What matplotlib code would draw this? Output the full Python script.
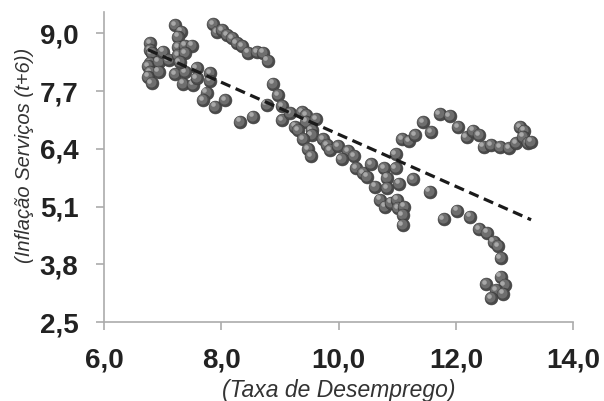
"""
Inflação de serviços (t+6) vs taxa de desemprego - dispersão com tendência linear.
"""

import numpy as np
import matplotlib
matplotlib.use("Agg")
import matplotlib.pyplot as plt
from matplotlib.transforms import offset_copy

# ── Dados ────────────────────────────────────────────────────────────────────

desemprego = [
    6.78, 6.78, 6.81, 6.78, 6.75, 6.78, 6.75, 6.81, 6.93, 7.01,
    6.93, 7.10, 7.21, 7.31, 7.26, 7.26, 7.38, 7.50, 7.26, 7.38,
    7.21, 7.38, 7.35, 7.52, 7.58, 7.58, 7.29, 7.81, 7.81, 7.75,
    7.69, 7.89, 8.06, 8.32, 8.54, 7.86, 7.93, 8.01, 8.10, 8.18,
    8.26, 8.36, 8.45, 8.61, 8.71, 8.79, 8.88, 8.97, 8.77, 9.04,
    9.03, 9.17, 9.26, 9.37, 9.44, 9.45, 9.61, 9.31, 9.54, 9.54,
    9.40, 9.48, 9.53, 9.74, 9.80, 9.85, 9.99, 10.16, 10.05, 10.26,
    10.30, 10.42, 10.48, 10.55, 10.62, 10.77, 10.83, 10.83, 10.97, 10.97,
    11.03, 10.70, 10.79, 10.90, 10.99, 11.01, 11.11, 11.09, 11.09, 11.08,
    11.20, 11.30, 11.44, 11.58, 11.27, 11.55, 11.72, 11.89, 12.04, 12.18,
    12.29, 12.39, 12.47, 12.60, 12.75, 12.90, 13.03, 13.09, 13.16, 13.14,
    13.23, 13.28, 11.79, 12.02, 12.24, 12.39, 12.53, 12.64, 12.72, 12.76,
    12.51, 12.76, 12.83, 12.69, 12.80, 12.60,
]

inflacao_servicos = [
    8.78, 8.62, 8.55, 8.33, 8.26, 8.13, 8.02, 7.88, 8.36, 8.59,
    8.14, 8.40, 9.18, 9.04, 8.92, 8.69, 8.72, 8.72, 8.51, 8.55,
    8.08, 8.13, 7.87, 7.84, 8.21, 7.99, 8.35, 8.10, 7.93, 7.66,
    7.50, 7.35, 7.50, 7.01, 7.12, 9.21, 9.03, 9.07, 8.96, 8.89,
    8.78, 8.71, 8.56, 8.58, 8.56, 8.38, 7.87, 7.61, 7.39, 7.36,
    7.04, 7.20, 6.90, 7.22, 7.16, 7.01, 7.07, 6.82, 6.82, 6.71,
    6.61, 6.39, 6.24, 6.62, 6.48, 6.37, 6.46, 6.35, 6.17, 6.24,
    5.96, 5.85, 5.77, 6.06, 5.55, 5.96, 5.75, 5.51, 6.28, 5.96,
    5.61, 5.25, 5.10, 5.19, 5.25, 5.06, 5.10, 4.91, 4.68, 6.61,
    6.57, 6.71, 7.00, 6.78, 5.72, 5.43, 7.18, 7.14, 6.88, 6.66,
    6.81, 6.71, 6.45, 6.48, 6.43, 6.41, 6.52, 6.88, 6.81, 6.67,
    6.52, 6.56, 4.81, 5.01, 4.87, 4.59, 4.51, 4.31, 4.21, 3.93,
    3.35, 3.52, 3.33, 3.22, 3.14, 3.03,
]

x_ticks = [6.0, 8.0, 10.0, 12.0, 14.0]
y_ticks = [2.5, 3.8, 5.1, 6.4, 7.7, 9.0]

# ── Gráfico ──────────────────────────────────────────────────────────────────

plt.rcParams["font.family"] = ["Liberation Sans", "DejaVu Sans"]

fig = plt.figure(figsize=(6.04, 4.01), dpi=100)
fig.patch.set_facecolor("white")
ax = fig.add_axes([0.1722, 0.197, 0.777, 0.773])

# esferas: base escura + meio-tom + brilho deslocado para cima/esquerda
t_mid = offset_copy(ax.transData, fig=fig, x=-1.0, y=1.0, units="dots")
t_hi = offset_copy(ax.transData, fig=fig, x=-2.2, y=2.4, units="dots")
z = 2
for xi, yi in zip(desemprego, inflacao_servicos):
    ax.scatter([xi], [yi], s=86, color="#4a4a4a", edgecolors="#3a3a3a",
               linewidths=0.4, zorder=z)
    ax.scatter([xi], [yi], s=52, color="#6e6e6e", linewidths=0,
               transform=t_mid, zorder=z + 0.1)
    ax.scatter([xi], [yi], s=11, color="#a8a8a8", linewidths=0,
               transform=t_hi, zorder=z + 0.2)
    z += 0.5

# tendência linear
coef = np.polyfit(desemprego, inflacao_servicos, 1)
xs = np.array([min(desemprego), max(desemprego)])
ax.plot(xs, np.polyval(coef, xs), color="#1a1a1a", linewidth=2.3,
        linestyle=(0, (3.2, 1.8)), zorder=z + 1)

ax.set_xlim(6.0, 14.0)
ax.set_ylim(2.5, 9.48)
ax.set_xticks(x_ticks)
ax.set_yticks(y_ticks)
ax.set_xticklabels([f"{v:.1f}".replace(".", ",") for v in x_ticks])
ax.set_yticklabels([f"{v:.1f}".replace(".", ",") for v in y_ticks])

for side in ["top", "right"]:
    ax.spines[side].set_visible(False)
for side in ["left", "bottom"]:
    ax.spines[side].set_color("#ababab")
    ax.spines[side].set_linewidth(1.2)

ax.tick_params(axis="both", direction="out", length=6, width=1.2,
               color="#ababab", labelsize=20, labelcolor="#222222", pad=12.5)
for lab in ax.get_xticklabels() + ax.get_yticklabels():
    lab.set_fontweight("bold")

ax.set_xlabel("(Taxa de Desemprego)", fontsize=16.5, style="italic",
              color="#333333", labelpad=4)
fig.text(25 / 604, 1 - 155 / 401, "(Inflação Serviços (t+6))", rotation=90,
         fontsize=14.5, style="italic", color="#333333",
         ha="center", va="center")

plt.savefig("out.png", dpi=100)
